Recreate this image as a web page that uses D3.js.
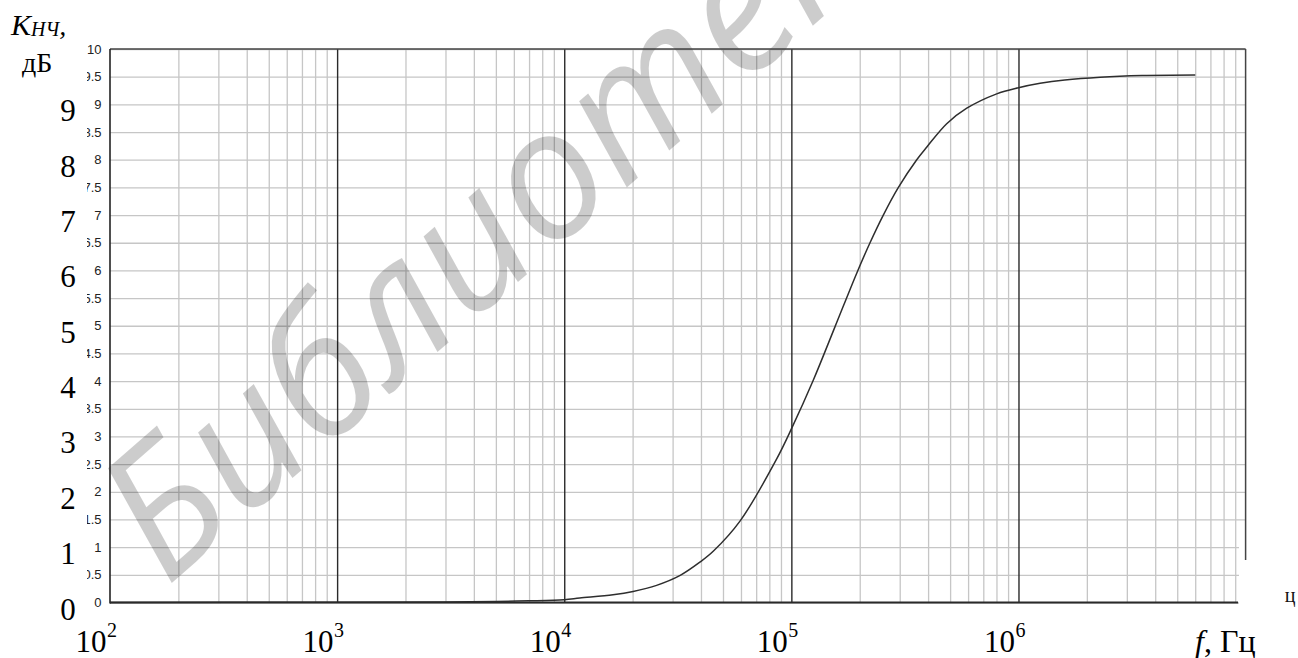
<!DOCTYPE html>
<html><head><meta charset="utf-8">
<script src="https://cdn.jsdelivr.net/npm/d3@7"></script>
<style>
html,body{margin:0;padding:0;background:#fff;}
svg{display:block;}
</style></head>
<body>
<svg id="c" width="1298" height="658"></svg>
<script>
// ---- data ----
const freqHz = [100, 1000, 3000, 5000, 7000, 10000, 11700, 16400, 20100, 25500, 32400, 39600, 45400, 59400, 86300, 100400, 125000, 155600, 194000, 222000, 254000, 296000, 356500, 395000, 483000, 592000, 802000, 1000000, 1245000, 1600000, 2290000, 3500000, 6000000];
const gainDb = [0, 0.005, 0.01, 0.02, 0.03, 0.05, 0.08, 0.14, 0.2, 0.31, 0.49, 0.73, 0.93, 1.47, 2.6, 3.15, 4.02, 4.98, 5.95, 6.5, 7.0, 7.5, 8.0, 8.23, 8.65, 8.93, 9.19, 9.3, 9.38, 9.44, 9.49, 9.52, 9.53];
const xDecadeExponents = [2, 3, 4, 5, 6];
const yBigLabels = [0, 1, 2, 3, 4, 5, 6, 7, 8, 9];
const ySmallLabels = ["0","0.5","1","1.5","2","2.5","3","3.5","4","4.5","5","5.5","6","6.5","7","7.5","8","8.5","9","9.5","10"];
const watermarkText = "Библиотека";

// ---- layout ----
const L = 110, R = 1245.6, T = 49, B = 602.5;
const svg = d3.select("#c");
const x = d3.scaleLog().domain([1e2, 1e7]).range([L, R]);
const y = d3.scaleLinear().domain([0, 10]).range([B, T]);

const minorX = [];
for (let d = 2; d <= 6; d++) for (let k = 2; k <= 9; k++) minorX.push(k * Math.pow(10, d));
const decadesX = d3.range(2, 8).map(e => Math.pow(10, e));
const gridY = ySmallLabels.map(Number);

// horizontal grid
svg.append("g").attr("transform", `translate(${L},0)`)
  .call(d3.axisLeft(y).tickValues(gridY).tickSize(-(R - L)).tickFormat(""))
  .call(g => g.select(".domain").remove())
  .call(g => g.selectAll("line").attr("stroke", "#c6c6c6").attr("stroke-width", 1.3));

// minor vertical grid
svg.append("g").attr("transform", `translate(0,${B})`)
  .call(d3.axisBottom(x).tickValues(minorX).tickSize(-(B - T)).tickFormat(""))
  .call(g => g.select(".domain").remove())
  .call(g => g.selectAll("line").attr("stroke", "#c6c6c6").attr("stroke-width", 1.3));

// decade vertical lines
svg.append("g").attr("transform", `translate(0,${B})`)
  .call(d3.axisBottom(x).tickValues(decadesX.slice(1, 5)).tickSize(-(B - T)).tickFormat(""))
  .call(g => g.select(".domain").remove())
  .call(g => g.selectAll("line").attr("stroke", "#2a2a2a").attr("stroke-width", 1.4));

// curve
const line = d3.line().x((d, i) => x(freqHz[i])).y(d => y(d)).curve(d3.curveCatmullRom.alpha(0.5));
svg.append("path").datum(gainDb).attr("d", line)
  .attr("fill", "none").attr("stroke", "#2e2e2e").attr("stroke-width", 1.5);

// watermark
svg.append("text").text(watermarkText)
  .attr("transform", "translate(166,588) rotate(-41)")
  .attr("font-family", "Open Sans, Noto Sans, sans-serif").attr("font-style", "italic")
  .attr("font-size", 180).attr("fill", "#000").attr("fill-opacity", 0.2);

// white cover at bottom right
svg.append("rect").attr("x", 1239).attr("y", 541).attr("width", 60).attr("height", 70).attr("fill", "#fff");

// frame
svg.append("line").attr("x1", L).attr("x2", R).attr("y1", T).attr("y2", T).attr("stroke", "#444").attr("stroke-width", 1.5);
svg.append("line").attr("x1", R).attr("x2", R).attr("y1", T).attr("y2", 560).attr("stroke", "#444").attr("stroke-width", 1.5);
svg.append("line").attr("x1", L).attr("x2", L).attr("y1", T).attr("y2", B + 1).attr("stroke", "#222").attr("stroke-width", 1.6);
svg.append("line").attr("x1", L).attr("x2", 1238).attr("y1", B).attr("y2", B).attr("stroke", "#2a2a2a").attr("stroke-width", 2);

// small y labels (clipped on the left)
svg.append("clipPath").attr("id", "lc").append("rect").attr("x", 87).attr("y", 30).attr("width", 22).attr("height", 590);
svg.append("g").attr("clip-path", "url(#lc)")
  .selectAll("text").data(ySmallLabels).join("text")
  .attr("x", 101.5).attr("y", d => y(+d) + 4.5)
  .attr("text-anchor", "end")
  .attr("font-family", "Liberation Sans, Arial, sans-serif")
  .attr("font-size", 13).attr("fill", "#222").text(d => d);

// big y labels
svg.append("g").selectAll("text").data(yBigLabels).join("text")
  .attr("x", 68).attr("y", d => y(d) + 17)
  .attr("text-anchor", "middle")
  .attr("font-family", "Liberation Serif, Times New Roman, serif")
  .attr("font-size", 31).attr("fill", "#000").text(d => d);

// x labels 10^n
svg.append("g").selectAll("text").data(xDecadeExponents).join("text")
  .attr("x", d => x(Math.pow(10, d)) - 3.5)
  .attr("y", 652).attr("text-anchor", "end")
  .attr("font-family", "Liberation Serif, Times New Roman, serif")
  .attr("font-size", 31).attr("fill", "#000").text("10");
svg.append("g").selectAll("text").data(xDecadeExponents).join("text")
  .attr("x", d => x(Math.pow(10, d)) - 3)
  .attr("y", 637)
  .attr("font-family", "Liberation Serif, Times New Roman, serif")
  .attr("font-size", 20).attr("fill", "#000").text(d => d);

// axis titles
const xt = svg.append("text").attr("x", 1195).attr("y", 652)
  .attr("font-family", "Liberation Serif, Times New Roman, serif").attr("font-size", 32).attr("fill", "#000");
xt.append("tspan").attr("font-style", "italic").text("f");
xt.append("tspan").text(", Гц");

const yt = svg.append("text").attr("x", 11).attr("y", 35)
  .attr("font-family", "Liberation Serif, Times New Roman, serif").attr("fill", "#000");
yt.append("tspan").attr("font-style", "italic").attr("font-size", 30).text("K");
yt.append("tspan").attr("font-style", "italic").attr("font-size", 20).attr("dy", 1).text("НЧ");
yt.append("tspan").attr("font-style", "italic").attr("font-size", 28).attr("dy", -1).text(",");
svg.append("text").attr("x", 22).attr("y", 72)
  .attr("font-family", "Liberation Serif, Times New Roman, serif").attr("font-size", 28).attr("fill", "#000").text("дБ");

svg.append("text").attr("x", 1290).attr("y", 602).attr("text-anchor", "middle")
  .attr("font-family", "Liberation Serif, Times New Roman, serif").attr("font-size", 20).attr("fill", "#111").text("ц");
</script>
</body></html>
